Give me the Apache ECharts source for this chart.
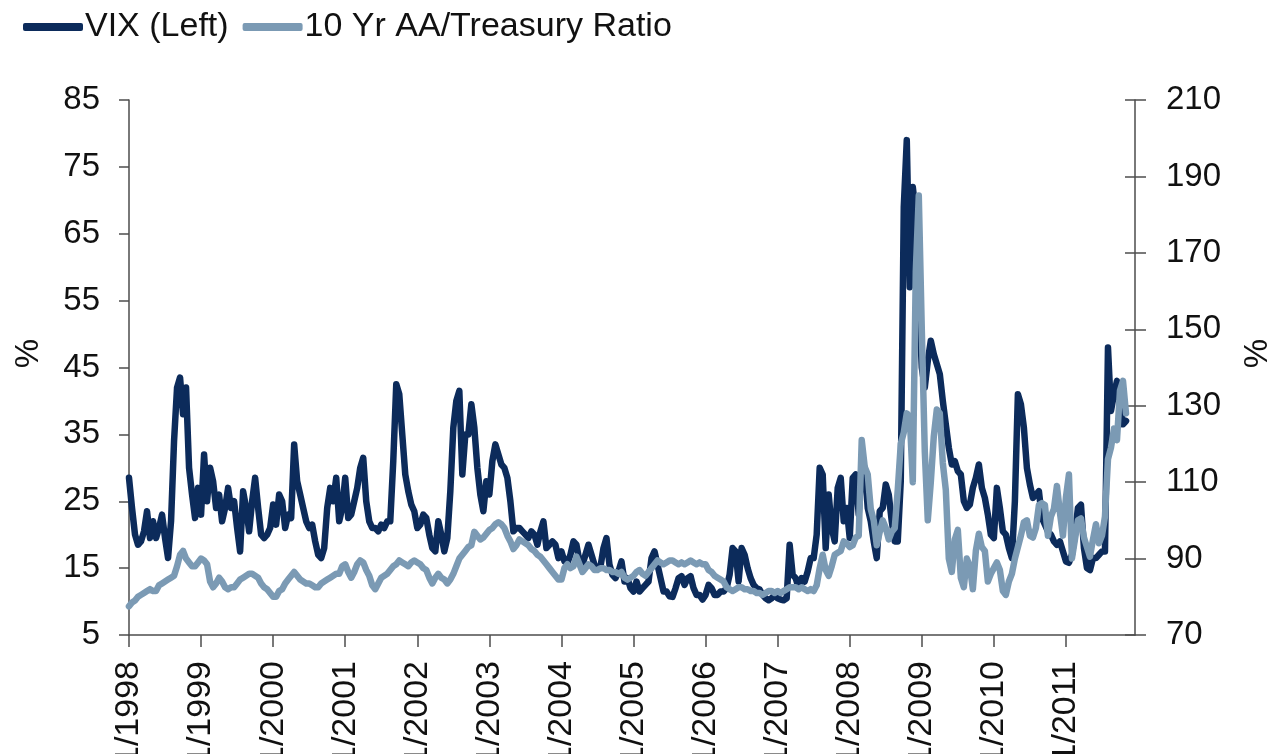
<!DOCTYPE html>
<html>
<head>
<meta charset="utf-8">
<script src="https://cdn.jsdelivr.net/npm/echarts@6/dist/echarts.min.js"></script>
<style>
html,body{margin:0;padding:0;background:#fff;overflow:hidden;}
#chart{width:1270px;height:754px;}
</style>
</head>
<body>
<div id="chart"></div>
<script>
// Semi-monthly observations, Jan 1998 .. Dec 2011 (336 slots); data ends Oct 2011
var startYear = 1998, endYear = 2011;
var tickLabels = ['1/1998','1/1999','1/2000','1/2001','1/2002','1/2003','1/2004','1/2005','1/2006','1/2007','1/2008','1/2009','1/2010','1/2011'];
var seriesNames = ['VIX (Left)', '10 Yr AA/Treasury Ratio'];

var vix = [
28.5,24,20,18.5,19,20.5,23.5,19.5,22,19.5,21,23,19.5,16.5,22,34,42,43.5,38,42,30,26,22.5,27,
23,32,25,30,28,24,26,22,24,27,24,25,21,17.5,26.5,24,20.5,25,28.5,24,20,19.5,20,21,
24.5,21.5,26,25,21,23,22.5,33.5,28,26,24,22,21,21.5,19,17,16.5,18,24,27,25,28.5,22,24,
28.5,22.5,23,25,27,30,31.5,25,22,21,21,20.5,21.5,21,22,22,31,42.5,41,35,29,26.5,24.5,23.5,
21,21.5,23,22.5,20,18,17.5,22,20,17.5,19.5,26.5,36,40,41.5,29,35,35,39.5,36,30,26,23.5,28,
26,31,33.5,32,30.5,30,28.5,25,20.5,21,21,20.5,20,19.5,20.5,20,18.5,20.5,22,18,18.5,19,18.5,16.5,
17.5,16,15.8,17,19,18.5,16,15.5,17,18.5,17,15.5,15,15.2,18,19.5,15.5,14,13.5,14.5,16,13,13.5,12,
11.5,13,11.5,12,12.5,13,16.5,17.5,15.5,13.5,11.5,11.5,10.8,10.7,12,13.5,13.8,12.5,13.5,13.8,12,11,11,10.3,
11,12.5,12,11,11,11.5,11.5,12,14,18,17.5,13,18,17,15,13.5,12.5,12,11.8,11,10.5,10.2,10.5,11,
10.5,10.3,10.2,10.5,18.5,14,13.5,12,13.5,13,14.5,16.5,16.5,20,30,29,18,26,21,19,27,28.5,22,24,
19.5,28.5,29,23,31,30,24,22,19,16.5,23.5,24,27.5,26,22,19,19,28,69,79,57,72,68,55,
45,42,46,49,47,45.5,44,40,36.5,33,30.5,31,29.5,29,25,24,24.5,27,28.5,30.5,27,25.5,23,20,
19.5,27,24,20.5,20,18,16.5,25,41,39.5,36,30,27.5,25.5,26,26.5,22.5,21.5,20.5,20,19,18.5,19,17.5,
16,15.8,17,20,24,24.5,18,15,14.7,16.5,16.5,17,17.5,17.5,48,38.5,41,43,40,36.5,37
];

var ratio = [
77.5,78.5,79,80,80.5,81,81.5,82,81.5,81.5,83,83.5,84,84.5,85,85.5,88,91,92,90,89,88,88,89,
90,89.5,88.5,84,82.5,83.5,85,84,82.5,82,82.5,82.5,83.5,84.5,85,85.5,86,86,85.5,85,83.5,82.5,82,81,
80,80,81.5,82,83.5,84.5,85.5,86.5,85.5,84.5,84,83.5,83.5,83,82.5,82.5,83.5,84,84.5,85,85.5,86,86,88,
88.5,86.5,85,86.5,88.5,89.5,89,87,85.5,83,82,83.5,85,85.5,86,87,88,88.5,89.5,89,88.5,88,89,89.5,
89,88.5,87.5,87,85,83.5,85,86,85,84.5,83.5,84.5,86,88,90,91,92,93,93.5,97,96,95,95.5,96.5,
97.5,98,99,99.5,99,98,96,94.5,92.5,93.5,95,94.5,94,93.5,92.5,92,91,90.5,89.5,88.5,87.5,86.5,85.5,84.5,
84.5,87.5,88.5,87.5,88,90.5,88.5,86.5,87.5,88.5,88,87,87,87.5,87.5,87,87,86.5,86.5,86,86.5,85,84.5,85,
85.5,86.5,87,86,85.5,86.5,87.5,88.5,89.5,89,88.5,89,89.5,89.5,89,88.5,89,88.5,89,89.5,89,88.5,89,88.5,
88.5,87,86.5,85.5,85,84.5,84,82.5,82,81.5,82,82.5,82.5,82,82,81.5,81.5,81,81,80.5,81,81.5,81.5,81,
81.5,81,81.5,82,82.5,82.5,82.5,82,82.5,82,81.5,82,81.5,83,87.5,91,87,85.5,88,91,91.5,92,94.5,94,
93,93.5,95.5,96,121,114,112,103,100,93.5,97,100,98,95,97,98,108,120,123,128,127,110,165,185,
150,118,100,110,122,129,128,115,108,90,86.5,95,97.5,85,82.5,90,88,82,92,96.5,93,92,84,86,
87.5,89,87,81.5,80.5,84,86,90,93,96,99.5,100,96,95.5,98,104,104.5,104,96,101,103,109,102,96,
106,112,90,95,100,100.5,95.5,93,90.5,95,99,94,96,101,116,119,124,121,134,136.5,128
];

// category axis: one slot per half-month
var cats = [];
for (var y = startYear; y <= endYear; y++) {
  for (var m = 1; m <= 12; m++) {
    cats.push(m + '/1/' + y);
    cats.push(m + '/15/' + y);
  }
}
function pad(arr) {
  var out = arr.slice();
  while (out.length < cats.length) out.push('-');
  return out;
}
function isYearStart(i) { return i % 24 === 0; }

var chart = echarts.init(document.getElementById('chart'), null, {renderer: 'canvas'});
var font = 'Liberation Sans, Arial, sans-serif';
var axisColor = '#4d4d4d';
var textColor = '#111111';
var darkC = '#0c2b5b';
var lightC = '#7b9ab4';

chart.setOption({
  animation: false,
  backgroundColor: '#ffffff',
  textStyle: {fontFamily: font},
  legend: {
    left: 18, top: 5,
    itemWidth: 60, itemHeight: 8, itemGap: 14,
    icon: 'roundRect',
    textStyle: {fontSize: 34, color: textColor, fontFamily: font, padding: [0,0,0,-3]},
    data: seriesNames
  },
  grid: {left: 129, right: 135, top: 100, bottom: 119, containLabel: false, outerBoundsMode: 'none'},
  xAxis: {
    type: 'category',
    data: cats,
    boundaryGap: false,
    axisLine: {lineStyle: {color: axisColor, width: 1.5}},
    axisTick: {show: true, interval: isYearStart, length: 12, lineStyle: {color: axisColor, width: 1.5}},
    axisLabel: {
      interval: isYearStart, rotate: 90, margin: 26,
      fontSize: 34, color: textColor, fontFamily: font,
      formatter: function (v, i) { return isYearStart(i) ? tickLabels[i / 24] : ''; }
    },
    splitLine: {show: false}
  },
  yAxis: [
    {
      type: 'value', position: 'left', min: 5, max: 85, interval: 10,
      name: '%', nameLocation: 'middle', nameGap: 84, nameRotate: 90,
      nameTextStyle: {fontSize: 33, color: textColor, fontFamily: font, padding: [0, 0, 0, 28]},
      axisLine: {show: true, lineStyle: {color: axisColor, width: 1.5}},
      axisTick: {show: true, length: 10, lineStyle: {color: axisColor, width: 1.5}},
      axisLabel: {fontSize: 33, color: textColor, margin: 29, fontFamily: font},
      splitLine: {show: false}
    },
    {
      type: 'value', position: 'right', min: 70, max: 210, interval: 20,
      name: '%', nameLocation: 'middle', nameGap: 106, nameRotate: 90,
      nameTextStyle: {fontSize: 33, color: textColor, fontFamily: font, padding: [0, 0, 0, 28]},
      axisLine: {show: true, lineStyle: {color: axisColor, width: 1.5}},
      axisTick: {show: true, length: 11, lineStyle: {color: axisColor, width: 1.5}},
      axisLabel: {fontSize: 33, color: textColor, margin: 31, fontFamily: font},
      splitLine: {show: false}
    },
    {
      type: 'value', position: 'right', min: 70, max: 210, interval: 20,
      axisLine: {show: false},
      axisTick: {show: true, inside: true, length: 10, lineStyle: {color: axisColor, width: 1.5}},
      axisLabel: {show: false},
      splitLine: {show: false}
    }
  ],
  series: [
    {
      name: seriesNames[0], type: 'line', yAxisIndex: 0,
      data: pad(vix), showSymbol: false, symbol: 'none',
      lineStyle: {color: darkC, width: 6.5, join: 'round', cap: 'round'},
      itemStyle: {color: darkC}
    },
    {
      name: seriesNames[1], type: 'line', yAxisIndex: 1,
      data: pad(ratio), showSymbol: false, symbol: 'none',
      lineStyle: {color: lightC, width: 6.5, join: 'round', cap: 'round'},
      itemStyle: {color: lightC}
    }
  ]
});
</script>
</body>
</html>
